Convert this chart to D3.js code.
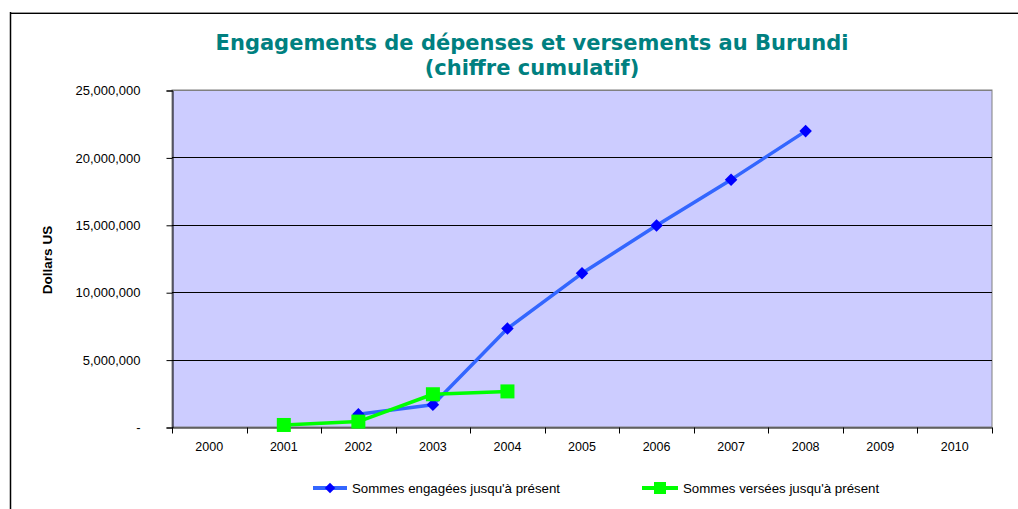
<!DOCTYPE html>
<html>
<head>
<meta charset="utf-8">
<script src="https://cdn.jsdelivr.net/npm/d3@7"></script>
<style>
  html, body { margin: 0; padding: 0; background: #fff; }
  svg { display: block; }
</style>
</head>
<body>
<svg id="chart" width="1018" height="509"></svg>
<script>
const titleLines = ["Engagements de dépenses et versements au Burundi", "(chiffre cumulatif)"];
const yAxisTitle = "Dollars US";
const years = ["2000","2001","2002","2003","2004","2005","2006","2007","2008","2009","2010"];
const yTicks = [0, 5000000, 10000000, 15000000, 20000000, 25000000];
const engagedName = "Sommes engagées jusqu'à présent";
const engagedYears = ["2002","2003","2004","2005","2006","2007","2008"];
const engagedValues = [950000, 1650000, 7300000, 11400000, 14950000, 18350000, 21950000];
const paidName = "Sommes versées jusqu'à présent";
const paidYears = ["2001","2002","2003","2004"];
const paidValues = [150000, 400000, 2430000, 2640000];

const svg = d3.select("#chart");
const plot = {left: 172, right: 992, top: 90, bottom: 427};
const font = "Liberation Sans, Arial, sans-serif";

// outer border
svg.append("line").attr("x1", 10.5).attr("x2", 1018).attr("y1", 12.5).attr("y2", 12.5)
  .attr("stroke", "#999").attr("stroke-width", 1);
svg.append("line").attr("x1", 10.5).attr("x2", 1018).attr("y1", 13.5).attr("y2", 13.5)
  .attr("stroke", "#000").attr("stroke-width", 1);
svg.append("line").attr("x1", 10.5).attr("x2", 10.5).attr("y1", 12).attr("y2", 509)
  .attr("stroke", "#000").attr("stroke-width", 1.5);

// title
const title = svg.append("text").attr("text-anchor", "middle")
  .attr("font-family", "DejaVu Sans, Verdana, sans-serif").attr("font-weight", "bold")
  .attr("font-size", 21).attr("fill", "#008080");
title.selectAll("tspan").data(titleLines).join("tspan")
  .attr("x", 532).attr("y", (d, i) => 50 + i * 25).text(d => d);

const x = d3.scaleBand().domain(years).range([plot.left, plot.right]);
const y = d3.scaleLinear().domain([0, 25000000]).range([plot.bottom, plot.top]);

// plot area
svg.append("rect").attr("x", plot.left).attr("y", plot.top)
  .attr("width", plot.right - plot.left).attr("height", plot.bottom - plot.top)
  .attr("fill", "#CCCCFF").attr("stroke", "#808080").attr("stroke-width", 1);

// gridlines
svg.append("g").selectAll("line").data(yTicks.filter(v => v > 0)).join("line")
  .attr("x1", plot.left).attr("x2", plot.right)
  .attr("y1", d => Math.round(y(d)) + 0.5).attr("y2", d => Math.round(y(d)) + 0.5)
  .attr("stroke", d => d === 25000000 ? "#808080" : "#000").attr("stroke-width", 1);

// y axis
const yAxis = d3.axisLeft(y).tickValues(yTicks).tickSize(6).tickPadding(26)
  .tickFormat(d => d === 0 ? "-" : d3.format(",")(d));
const gy = svg.append("g").attr("transform", `translate(${plot.left + 0.5},0.5)`).call(yAxis);
gy.select(".domain").attr("stroke", "#000");
gy.selectAll(".tick line").attr("stroke", "#000");
gy.selectAll("text").attr("font-family", font).attr("font-size", 13).attr("fill", "#000");

// x axis
const xAxis = d3.axisBottom(x).tickSize(0).tickPadding(15);
const gx = svg.append("g").attr("transform", `translate(0,${plot.bottom + 0.5})`).call(xAxis);
gx.select(".domain").attr("stroke", "#000");
gx.selectAll("text").attr("font-family", font).attr("font-size", 12.5).attr("fill", "#000");
// category boundary ticks
const bounds = years.map(d => x(d)).concat([x(years[years.length - 1]) + x.bandwidth()]);
gx.append("g").selectAll("line").data(bounds).join("line")
  .attr("x1", d => Math.round(d) + 0.5).attr("x2", d => Math.round(d) + 0.5)
  .attr("y1", 0).attr("y2", 6).attr("stroke", "#000");

// y axis title
svg.append("text").attr("transform", "translate(52,260) rotate(-90)")
  .attr("text-anchor", "middle").attr("font-family", font)
  .attr("font-weight", "bold").attr("font-size", 13.5).attr("fill", "#000").text(yAxisTitle);

const cx = d => x(d) + x.bandwidth() / 2;
const line = d3.line().x(d => cx(d[0])).y(d => y(d[1]));

const engaged = d3.zip(engagedYears, engagedValues);
const paid = d3.zip(paidYears, paidValues);

const diamond = d3.symbol().type(d3.symbolDiamond2).size(100);

// engaged series
svg.append("path").datum(engaged).attr("d", line).attr("fill", "none")
  .attr("stroke", "#3366FF").attr("stroke-width", 3.5).attr("stroke-linejoin", "round");
svg.append("g").selectAll("path").data(engaged).join("path")
  .attr("transform", d => `translate(${cx(d[0])},${y(d[1])})`)
  .attr("d", diamond).attr("fill", "#0000FF");

// paid series
svg.append("path").datum(paid).attr("d", line).attr("fill", "none")
  .attr("stroke", "#00FF00").attr("stroke-width", 3.5).attr("stroke-linejoin", "round");
svg.append("g").selectAll("rect").data(paid).join("rect")
  .attr("x", d => cx(d[0]) - 7).attr("y", d => y(d[1]) - 7)
  .attr("width", 14).attr("height", 14).attr("fill", "#00FF00");

// legend
const legend = [
  {name: engagedName, color: "#3366FF", mark: "#0000FF", type: "diamond", x0: 313, x1: 347, tx: 352},
  {name: paidName, color: "#00FF00", mark: "#00FF00", type: "square", x0: 642, x1: 678, tx: 683}
];
const ly = 488;
const lg = svg.append("g").selectAll("g").data(legend).join("g");
lg.append("line").attr("x1", d => d.x0).attr("x2", d => d.x1).attr("y1", ly).attr("y2", ly)
  .attr("stroke", d => d.color).attr("stroke-width", 4);
lg.each(function(d) {
  const g = d3.select(this);
  const mx = (d.x0 + d.x1) / 2;
  if (d.type === "diamond") {
    g.append("path").attr("transform", `translate(${mx},${ly})`)
      .attr("d", d3.symbol().type(d3.symbolDiamond2).size(70)).attr("fill", d.mark);
  } else {
    g.append("rect").attr("x", mx - 6).attr("y", ly - 6).attr("width", 12).attr("height", 12)
      .attr("fill", d.mark);
  }
});
lg.append("text").attr("x", d => d.tx).attr("y", ly + 4.5)
  .attr("font-family", font).attr("font-size", 13.3)
  .attr("fill", "#000").text(d => d.name);
</script>
</body>
</html>
